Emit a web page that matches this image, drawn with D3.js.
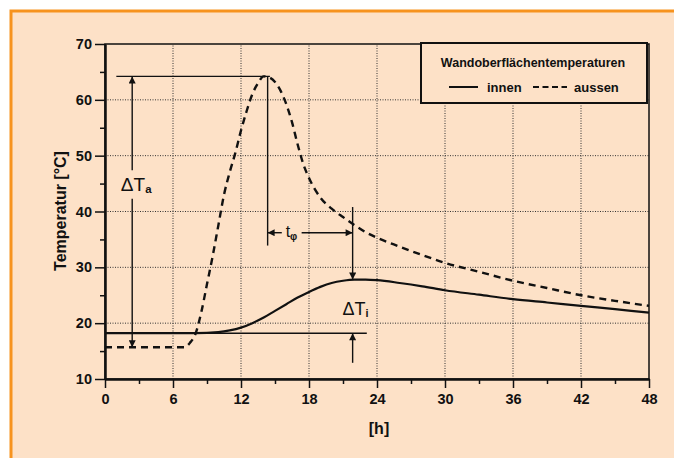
<!DOCTYPE html>
<html>
<head>
<meta charset="utf-8">
<script src="https://cdn.jsdelivr.net/npm/d3@7"></script>
<style>
    body { margin: 0; background: #fff; }
    svg text { font-family: "Liberation Sans", Arial, sans-serif; fill: #111; }
</style>
</head>
<body>
<div id="chart"></div>
<script>
    // Stunden (x) und Temperaturen (y) der beiden Kurven
    var innenHours = [0, 6, 8, 10, 11, 12, 13, 14, 15, 16, 17, 18, 19, 20, 21, 22, 23, 24, 26, 28, 30, 33, 36, 39, 42, 45, 48]
    var innenTemps = [18.2, 18.2, 18.2, 18.4, 18.7, 19.2, 20.0, 21.0, 22.2, 23.4, 24.6, 25.6, 26.5, 27.2, 27.6, 27.8, 27.8, 27.7, 27.2, 26.6, 25.9, 25.1, 24.3, 23.7, 23.1, 22.5, 21.9]

    var aussenHours = [0, 6, 7, 7.5, 8, 8.5, 9, 9.5, 10, 10.5, 11, 11.5, 12, 12.5, 13, 13.5, 14, 14.5, 15, 15.5, 16, 16.5, 17, 17.5, 18, 19, 20, 21, 22, 23, 24, 26, 28, 30, 33, 36, 39, 42, 45, 48]
    var aussenTemps = [15.7, 15.7, 15.7, 16.5, 18.2, 22.0, 27.0, 32.0, 37.5, 43.0, 47.0, 50.5, 54.5, 58.0, 61.0, 63.0, 64.2, 64.0, 63.2, 61.6, 59.2, 56.0, 52.0, 48.5, 46.0, 42.5, 40.5, 39.0, 37.6, 36.3, 35.3, 33.7, 32.2, 30.8, 29.2, 27.6, 26.3, 25.0, 24.0, 23.1]

    var xTicks = [0, 6, 12, 18, 24, 30, 36, 42, 48]
    var xMinor = [3, 9, 15, 21, 27, 33, 39, 45]
    var yTicks = [10, 20, 30, 40, 50, 60, 70]
    var yMinor = [15, 25, 35, 45, 55, 65]

    var legendTitle = 'Wandoberflächentemperaturen'
    var legendNames = ['innen', 'aussen']

    // Kennwerte fuer die Beschriftung (in Datenkoordinaten)
    var tMax = 64.2, tStart = 18.2, tAussenStart = 15.7, tInnenMax = 27.8
    var hMaxAussen = 14.35, hMaxInnen = 21.85

    var width = 674, height = 458
    var svg = d3.select('#chart').append('svg').attr('width', width).attr('height', height)

    // Hintergrund und orange Rahmen
    svg.append('rect').attr('x', 11).attr('y', 11).attr('width', width).attr('height', height)
        .attr('fill', '#fde1c7').attr('stroke', '#f7931e').attr('stroke-width', 3)

    var x = d3.scaleLinear().domain([0, 48]).range([105, 649])
    var y = d3.scaleLinear().domain([10, 70]).range([379, 44])

    var defs = svg.append('defs')
    defs.append('marker').attr('id', 'arrow')
        .attr('viewBox', '0 0 10 10').attr('refX', 10).attr('refY', 5)
        .attr('markerWidth', 9).attr('markerHeight', 7).attr('markerUnits', 'userSpaceOnUse')
        .attr('orient', 'auto')
        .append('path').attr('d', 'M0,0L10,5L0,10Z').attr('fill', '#111')

    // Gitter
    var grid = svg.append('g').attr('stroke', '#333').attr('stroke-width', 1).attr('stroke-dasharray', '1,1.5')
    grid.selectAll('line.v').data(xTicks.slice(1, -1)).enter().append('line')
        .attr('x1', function (d) { return x(d) }).attr('x2', function (d) { return x(d) })
        .attr('y1', y(10)).attr('y2', y(70))
    grid.selectAll('line.h').data(yTicks.slice(1, -1)).enter().append('line')
        .attr('y1', function (d) { return y(d) }).attr('y2', function (d) { return y(d) })
        .attr('x1', x(0)).attr('x2', x(48))

    // Rahmen des Diagramms
    svg.append('rect').attr('x', x(0)).attr('y', y(70)).attr('width', x(48) - x(0)).attr('height', y(10) - y(70))
        .attr('fill', 'none').attr('stroke', '#111').attr('stroke-width', 1.5)

    // Achsen
    function styleAxis(g) {
        g.select('.domain').attr('stroke', '#111').attr('stroke-width', 2)
        g.selectAll('.tick line').attr('stroke', '#111').attr('stroke-width', 1.5)
        g.selectAll('.tick text').attr('font-size', 14.5).attr('font-weight', 'bold').attr('fill', '#111')
    }
    var xAxis = svg.append('g').attr('transform', 'translate(0,' + y(10) + ')')
        .call(d3.axisBottom(x).tickValues(xTicks).tickSize(9).tickPadding(6).tickSizeOuter(0))
    styleAxis(xAxis)
    var xAxisMinor = svg.append('g').attr('transform', 'translate(0,' + y(10) + ')')
        .call(d3.axisBottom(x).tickValues(xMinor).tickSize(5).tickFormat('').tickSizeOuter(0))
    styleAxis(xAxisMinor)
    var yAxis = svg.append('g').attr('transform', 'translate(' + x(0) + ',0)')
        .call(d3.axisLeft(y).tickValues(yTicks).tickSize(10).tickPadding(3).tickSizeOuter(0))
    styleAxis(yAxis)
    var yAxisMinor = svg.append('g').attr('transform', 'translate(' + x(0) + ',0)')
        .call(d3.axisLeft(y).tickValues(yMinor).tickSize(5).tickFormat('').tickSizeOuter(0))
    styleAxis(yAxisMinor)

    // Achsentitel
    svg.append('text').attr('transform', 'translate(66,' + 211 + ') rotate(-90)')
        .attr('text-anchor', 'middle').attr('font-size', 16).attr('font-weight', 'bold')
        .text('Temperatur [°C]')
    svg.append('text').attr('x', (x(0) + x(48)) / 2 + 2).attr('y', 434)
        .attr('text-anchor', 'middle').attr('font-size', 16).attr('font-weight', 'bold')
        .text('[h]')

    // Kurven
    var line = d3.line().curve(d3.curveMonotoneX)
        .x(function (d) { return x(d[0]) }).y(function (d) { return y(d[1]) })
    var innen = d3.zip(innenHours, innenTemps)
    var aussen = d3.zip(aussenHours, aussenTemps)
    svg.append('path').datum(innen).attr('d', line)
        .attr('fill', 'none').attr('stroke', '#111').attr('stroke-width', 2.2)
    svg.append('path').datum(aussen).attr('d', line)
        .attr('fill', 'none').attr('stroke', '#111').attr('stroke-width', 2.4).attr('stroke-dasharray', '7,5')

    // Bemaszung
    var ann = svg.append('g').attr('stroke', '#111').attr('stroke-width', 1.4).attr('fill', 'none')
    function seg(h1, t1, h2, t2, arrow) {
        var l = ann.append('line').attr('x1', x(h1)).attr('y1', y(t1)).attr('x2', x(h2)).attr('y2', y(t2))
        if (arrow) l.attr('marker-end', 'url(#arrow)')
        return l
    }
    seg(1.0, tMax, hMaxAussen + 0.2, tMax)
    seg(8, tStart, 23.1, tStart)
    // Delta T aussen
    seg(2.4, 47.4, 2.4, tMax, true)
    seg(2.4, 42.3, 2.4, tAussenStart, true)
    // Phasenverschiebung
    seg(hMaxAussen, tMax, hMaxAussen, 33.9)
    seg(15.6, 36.2, hMaxAussen, 36.2, true)
    seg(17.35, 36.2, hMaxInnen, 36.2, true)
    // Delta T innen
    seg(hMaxInnen, 40.8, hMaxInnen, tInnenMax, true)
    seg(hMaxInnen, 12.9, hMaxInnen, tStart, true)

    function deltaLabel(px, py, sub, size) {
        var t = svg.append('text').attr('x', px).attr('y', py).attr('font-size', size).attr('text-anchor', 'middle')
        t.append('tspan').text('ΔT')
        t.append('tspan').attr('font-size', size * 0.6).attr('font-weight', 'bold').attr('dy', 2).text(sub)
    }
    deltaLabel(x(2.75), y(43.6), 'a', 19)
    deltaLabel(x(22.1), y(21.5), 'i', 18)
    var tp = svg.append('text').attr('x', x(16.45)).attr('y', y(35.5)).attr('font-size', 16).attr('text-anchor', 'middle')
    tp.append('tspan').text('t')
    tp.append('tspan').attr('font-size', 10).attr('font-weight', 'bold').attr('dy', 3).text('φ')

    // Legende
    var lg = svg.append('g')
    lg.append('rect').attr('x', 421).attr('y', 43).attr('width', 226).attr('height', 60)
        .attr('fill', '#fde1c7').attr('stroke', '#111').attr('stroke-width', 2)
    lg.append('text').attr('x', 533).attr('y', 67).attr('text-anchor', 'middle')
        .attr('font-size', 12.5).attr('font-weight', 'bold').text(legendTitle)
    lg.append('line').attr('x1', 449).attr('x2', 478).attr('y1', 87).attr('y2', 87)
        .attr('stroke', '#111').attr('stroke-width', 2)
    lg.append('text').attr('x', 487).attr('y', 92).attr('font-size', 13).attr('font-weight', 'bold').text(legendNames[0])
    lg.append('line').attr('x1', 533).attr('x2', 567).attr('y1', 87).attr('y2', 87)
        .attr('stroke', '#111').attr('stroke-width', 2).attr('stroke-dasharray', '6,3.5')
    lg.append('text').attr('x', 574).attr('y', 92).attr('font-size', 13).attr('font-weight', 'bold').text(legendNames[1])
</script>
</body>
</html>
